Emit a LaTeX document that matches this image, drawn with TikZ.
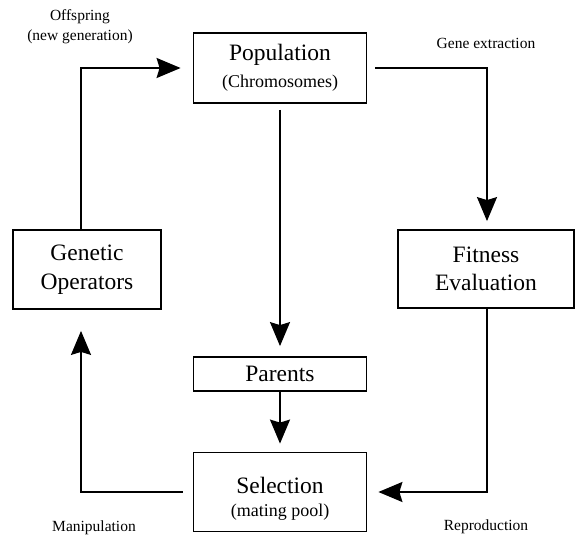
\documentclass[tikz,border=0pt]{standalone}
\usepackage{fontspec}
\setmainfont{Liberation Serif}
\usetikzlibrary{arrows.meta}
\tikzset{
  box/.style={draw, line width=1.8pt, inner sep=0pt, align=center,
    font=\fontsize{23.5}{29}\selectfont},
  big/.style={inner sep=0pt, anchor=base, font=\fontsize{23.5}{29}\selectfont},
  sub/.style={inner sep=0pt, anchor=base, font=\fontsize{18}{22}\selectfont},
  lab/.style={inner sep=0pt, align=center, font=\fontsize{15.5}{20}\selectfont},
  conn/.style={line width=1.8pt, -{Stealth[length=24pt,width=20pt,inset=3pt]}}
}
\begin{document}
\begin{tikzpicture}[x=1pt,y=-1pt]
\useasboundingbox (0,0) rectangle (576,535);
\node[box, minimum width=173pt, minimum height=70pt] (pop) at (280,68)
  {Population\\[-2pt]{\fontsize{18}{22}\selectfont (Chromosomes)}};
\node[box, minimum width=176pt, minimum height=78pt, font=\fontsize{23.5}{27.5}\selectfont] (fit) at (486,269) {Fitness\\Evaluation};
\node[box, minimum width=148pt, minimum height=79pt] (gen) at (87,269.5) {Genetic\\Operators};
\node[box, minimum width=173pt, minimum height=34pt] (par) at (280,374) {Parents};
\node[box, minimum width=173pt, minimum height=79pt] (sel) at (280,492) {};
\node[big] (selt) at (280,493) {Selection};
\node[sub] (sels) at (280,516) {(mating pool)};
\coordinate (tl) at (81,68);
\coordinate (tr) at (487,68);
\coordinate (br) at (487,492);
\coordinate (bl) at (81,492);
\draw[conn, shorten >=12pt] (gen.north -| tl) -- (tl) -- (pop.west);
\draw[conn, shorten <=8pt, shorten >=8pt] (pop.east) -- (tr) -- (fit.north -| tr);
\draw[conn, shorten <=6pt, shorten >=10pt] (pop.south) -- (par.north);
\draw[conn, shorten >=8pt] (par.south) -- (sel.north);
\draw[conn, shorten >=11pt] (fit.south -| br) -- (br) -- (sel.east);
\draw[conn, shorten <=10pt, shorten >=21pt] (sel.west) -- (bl) -- (gen.south -| bl);
\node[lab] (offs) at (80,27) {Offspring\\(new generation)};
\node[lab] (gene) at (486,43) {Gene extraction};
\node[lab] (manip) at (94,528) {Manipulation};
\node[lab] (repro) at (486,527) {Reproduction};
\end{tikzpicture}
\end{document}
